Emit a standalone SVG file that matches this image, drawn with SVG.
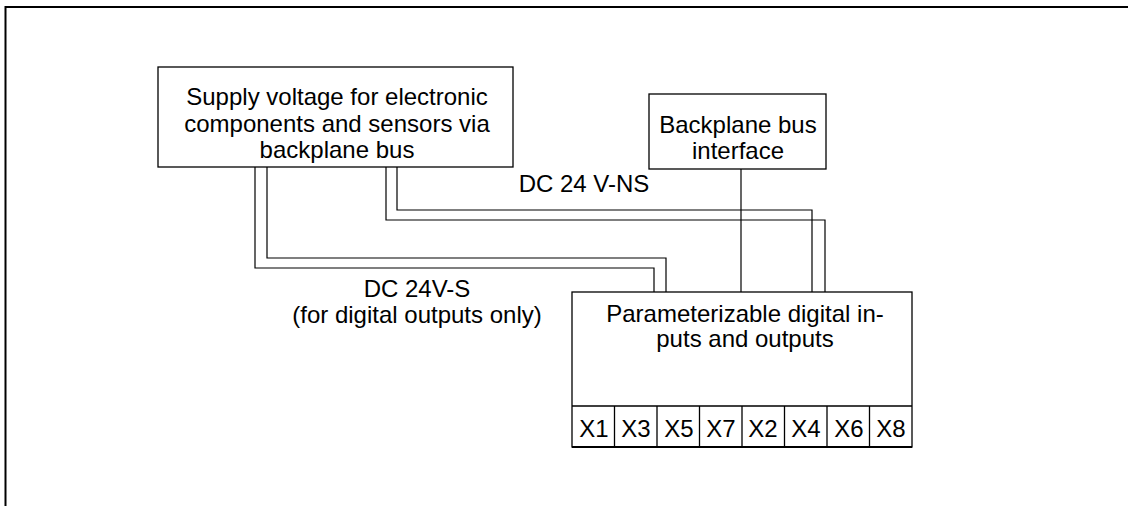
<svg xmlns="http://www.w3.org/2000/svg" width="1128" height="506" viewBox="0 0 1128 506">
<style>
.box{fill:#fff;stroke:#000;stroke-width:1.3}
.wire{fill:none;stroke:#000;stroke-width:1.2}
text{font-family:"Liberation Sans",Arial,sans-serif;font-size:24px;fill:#000;text-anchor:middle}
</style>
<rect width="1128" height="506" fill="#fff"/>
<path d="M5.5,506 V7 H1128" fill="none" stroke="#000" stroke-width="2"/>
<g id="connectors">
<path class="wire" d="M255,167 V268 H654 V292"/>
<path class="wire" d="M267,167 V258 H666 V292"/>
<path class="wire" d="M386,167 V220 H825 V292"/>
<path class="wire" d="M397,167 V210 H812 V292"/>
<path class="wire" d="M741,169 V292"/>
<path class="wire" d="M742,362 V406"/>
</g>
<g id="supply">
<rect class="box" x="158" y="67" width="355" height="100"/>
<text x="337" y="105">Supply voltage for electronic</text>
<text x="337" y="132">components and sensors via</text>
<text x="337" y="158">backplane bus</text>
</g>
<g id="backplane">
<rect class="box" x="649" y="94" width="177" height="75"/>
<text x="738" y="133">Backplane bus</text>
<text x="738" y="159">interface</text>
</g>
<g id="labels">
<text x="584" y="192">DC 24 V-NS</text>
<text x="417" y="297">DC 24V-S</text>
<text x="417" y="323">(for digital outputs only)</text>
</g>
<g id="digital">
<rect class="box" x="572" y="292" width="340" height="155"/>
<text x="745" y="322">Parameterizable digital in-</text>
<text x="745" y="347">puts and outputs</text>
<path d="M572,406 H912 M614.5,406 V447 M657,406 V447 M699.5,406 V447 M742,406 V447 M784.5,406 V447 M827,406 V447 M869.5,406 V447" fill="none" stroke="#000" stroke-width="1.3"/>
<path d="M572,447 H912" stroke="#000" stroke-width="2"/>
<g id="ports">
<text x="594" y="437">X1</text>
<text x="636" y="437">X3</text>
<text x="679" y="437">X5</text>
<text x="721" y="437">X7</text>
<text x="763" y="437">X2</text>
<text x="806" y="437">X4</text>
<text x="849" y="437">X6</text>
<text x="891" y="437">X8</text>
</g>
</g>
</svg>
